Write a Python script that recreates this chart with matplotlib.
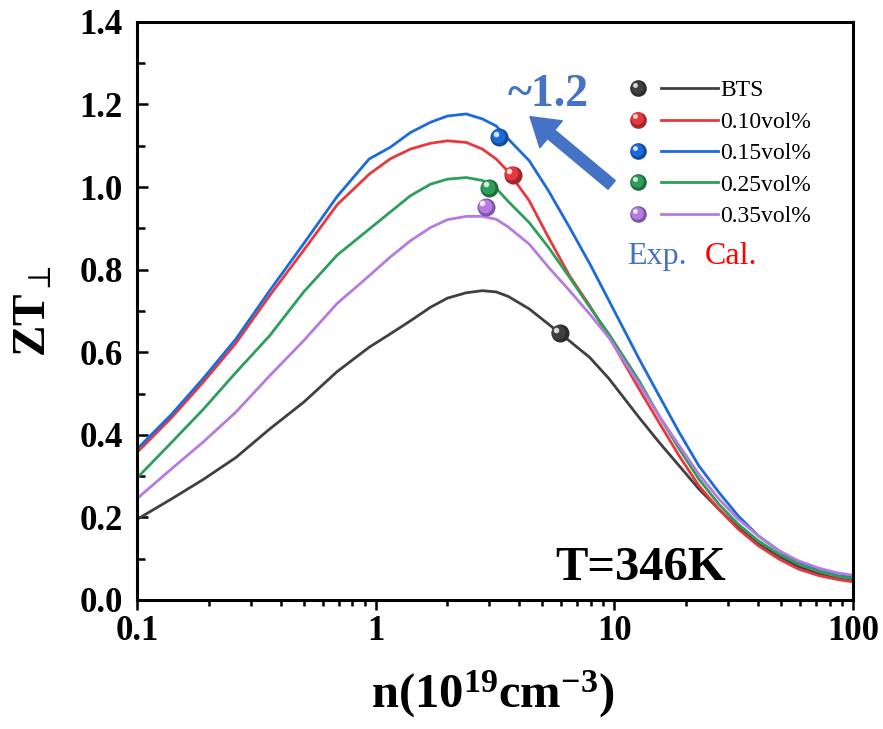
import numpy as np
import matplotlib
matplotlib.use("Agg")
import matplotlib.pyplot as plt
from matplotlib.lines import Line2D
from matplotlib.colors import to_rgb
from matplotlib.transforms import ScaledTranslation

plt.rcParams['font.family'] = ['Liberation Serif', 'DejaVu Serif']
plt.rcParams['mathtext.fontset'] = 'custom'
plt.rcParams['mathtext.rm'] = 'Liberation Serif:bold'
plt.rcParams['mathtext.it'] = 'Liberation Serif:italic:bold'
plt.rcParams['mathtext.bf'] = 'Liberation Serif:bold'

# Carrier concentration (10^19 cm^-3) for the calculated curves
n_calc = [0.1, 0.14, 0.19, 0.26, 0.36, 0.5, 0.69, 0.94, 1.15, 1.4, 1.7, 2.0, 2.4, 2.8,
          3.2, 3.6, 4.4, 5.3, 6.5, 7.9, 9.5, 12.7, 15.4, 18.7, 22.6, 27.4, 33, 40,
          49, 59, 72, 87, 100]

zt_bts = [0.195, 0.245, 0.292, 0.345, 0.414, 0.479, 0.553, 0.612, 0.644, 0.676, 0.709,
          0.731, 0.744, 0.749, 0.746, 0.735, 0.705, 0.668, 0.627, 0.587, 0.536, 0.442,
          0.382, 0.325, 0.269, 0.22, 0.176, 0.136, 0.106, 0.081, 0.063, 0.051, 0.047]
zt_010 = [0.357, 0.442, 0.528, 0.622, 0.737, 0.847, 0.957, 1.031, 1.068, 1.092, 1.106,
          1.112, 1.108, 1.092, 1.068, 1.037, 0.967, 0.878, 0.785, 0.712, 0.638, 0.511,
          0.43, 0.349, 0.277, 0.22, 0.172, 0.132, 0.099, 0.075, 0.059, 0.049, 0.044]
zt_015 = [0.365, 0.45, 0.537, 0.632, 0.749, 0.863, 0.977, 1.068, 1.096, 1.132, 1.157,
          1.172, 1.177, 1.165, 1.148, 1.116, 1.064, 0.991, 0.902, 0.814, 0.725, 0.584,
          0.495, 0.406, 0.325, 0.261, 0.204, 0.156, 0.119, 0.091, 0.071, 0.059, 0.055]
zt_025 = [0.295, 0.382, 0.462, 0.551, 0.64, 0.746, 0.835, 0.898, 0.939, 0.979, 1.007,
          1.019, 1.023, 1.016, 0.997, 0.965, 0.914, 0.854, 0.781, 0.709, 0.644, 0.531,
          0.446, 0.366, 0.293, 0.232, 0.184, 0.144, 0.111, 0.087, 0.069, 0.057, 0.052]
zt_035 = [0.245, 0.318, 0.383, 0.455, 0.543, 0.628, 0.718, 0.785, 0.83, 0.87, 0.902,
          0.921, 0.929, 0.929, 0.922, 0.903, 0.862, 0.806, 0.749, 0.692, 0.635, 0.523,
          0.446, 0.374, 0.305, 0.245, 0.196, 0.156, 0.119, 0.095, 0.077, 0.065, 0.06]

# Measured samples
n_exp = [5.9, 3.75, 3.3, 3.0, 2.9]
zt_exp = [0.646, 1.03, 1.12, 0.998, 0.952]

labels = ['BTS', '0.10vol%', '0.15vol%', '0.25vol%', '0.35vol%']
colors = ['#404040', '#e8383d', '#1c6bdc', '#2e9e5b', '#b57be3']
curves = [zt_bts, zt_010, zt_015, zt_025, zt_035]


def darker(c, f=0.7):
    r, g, b = to_rgb(c)
    return (r * f, g * f, b * f)


def lighter(c, f=0.55):
    r, g, b = to_rgb(c)
    return (r + (1 - r) * f, g + (1 - g) * f, b + (1 - b) * f)


class SphereLineHandler:
    """legend entry: a ball on the left, a short line on the right"""
    def legend_artist(self, legend, orig_handle, fontsize, handlebox):
        x0 = -handlebox.xdescent
        yc = -handlebox.ydescent + handlebox.height / 2
        w = handlebox.width
        c = orig_handle.get_color()
        line = Line2D([x0 + 0.36 * w, x0 + w], [yc, yc], color=c, lw=2.0)
        handlebox.add_artist(line)
        xm = x0 + 0.095 * w
        handlebox.add_artist(Line2D([xm], [yc], marker='o', ms=12, color=darker(c), ls='none', mec='none'))
        handlebox.add_artist(Line2D([xm - 0.8], [yc + 0.8], marker='o', ms=9, color=c, ls='none', mec='none'))
        handlebox.add_artist(Line2D([xm - 2.2], [yc + 2.2], marker='o', ms=3.5, color=lighter(c, 0.8),
                                    ls='none', mec='none'))
        return line


fig = plt.figure(figsize=(8.83, 7.29), dpi=100)
ax = fig.add_axes([0.155, 0.177, 0.811, 0.793])

lines = []
for zt, c, lab in zip(curves, colors, labels):
    ln, = ax.plot(n_calc, zt, color=c, lw=2.0, label=lab, zorder=2)
    lines.append(ln)

# glossy balls for the experimental points
off1 = ax.transData + ScaledTranslation(-0.9 / 72, 0.9 / 72, fig.dpi_scale_trans)
off2 = ax.transData + ScaledTranslation(-2.5 / 72, 2.5 / 72, fig.dpi_scale_trans)
for x, y, c in zip(n_exp, zt_exp, colors):
    ax.plot([x], [y], 'o', ms=13, color=darker(c), mec='none', zorder=4)
    ax.plot([x], [y], 'o', ms=10, color=c, mec='none', zorder=5, transform=off1)
    ax.plot([x], [y], 'o', ms=4, color=lighter(c, 0.8), mec='none', zorder=6, transform=off2)

ax.set_xscale('log')
ax.set_xlim(0.1, 100)
ax.set_ylim(0, 1.4)
ax.set_xticks([0.1, 1, 10, 100])
ax.set_xticklabels(['0.1', '1', '10', '100'], fontsize=25, fontweight='bold')
yt = np.arange(0, 1.41, 0.2)
ax.set_yticks(yt)
ax.set_yticklabels([f'{v:.1f}' for v in yt], fontsize=25, fontweight='bold')
ax.set_yticks(np.arange(0.1, 1.4, 0.2), minor=True)
ax.xaxis.set_minor_formatter(plt.NullFormatter())
ax.tick_params(axis='y', which='both', direction='in', right=False, width=1.8, pad=10)
ax.tick_params(axis='y', which='major', length=8)
ax.tick_params(axis='y', which='minor', length=6)
ax.tick_params(axis='x', which='both', direction='out', top=False, width=1.8, pad=4)
ax.tick_params(axis='x', which='major', length=7)
ax.tick_params(axis='x', which='minor', length=4)
for s in ax.spines.values():
    s.set_linewidth(2.2)

ax.set_xlabel('n(10$^{19}$cm$^{-3}$)', fontsize=35, fontweight='bold')
ax.xaxis.set_label_coords(0.497, -0.118)
ax.set_ylabel(r'ZT$_{\perp}$', fontsize=34, fontweight='bold')
ax.yaxis.set_label_coords(-0.113, 0.5)

leg = ax.legend(handles=lines, handler_map={Line2D: SphereLineHandler()},
                loc='upper left', bbox_to_anchor=(0.678, 0.912), frameon=False,
                fontsize=17, handlelength=3.73, handletextpad=0.13, labelspacing=0.42,
                borderaxespad=0, borderpad=0.3)

ax.text(0.518, 0.855, '~1.2', transform=ax.transAxes, fontsize=33, fontweight='bold',
        color='#4472c4', va='baseline', ha='left')
ax.annotate('', xy=(0.549, 0.836), xytext=(0.663, 0.718), xycoords='axes fraction',
            textcoords='axes fraction',
            arrowprops=dict(arrowstyle='simple,head_width=1.4,head_length=1.1,tail_width=0.45',
                            color='#4472c4', mutation_scale=18, shrinkA=0, shrinkB=0))
ax.text(0.684, 0.581, 'Exp.', transform=ax.transAxes, fontsize=23, color='#4472c4',
        va='baseline', ha='left')
ax.text(0.793, 0.581, 'Cal.', transform=ax.transAxes, fontsize=23, color='#ff0000',
        va='baseline', ha='left')
ax.text(0.584, 0.035, 'T=346K', transform=ax.transAxes, fontsize=35, fontweight='bold',
        va='baseline', ha='left')

fig.savefig('out.png', dpi=100)
